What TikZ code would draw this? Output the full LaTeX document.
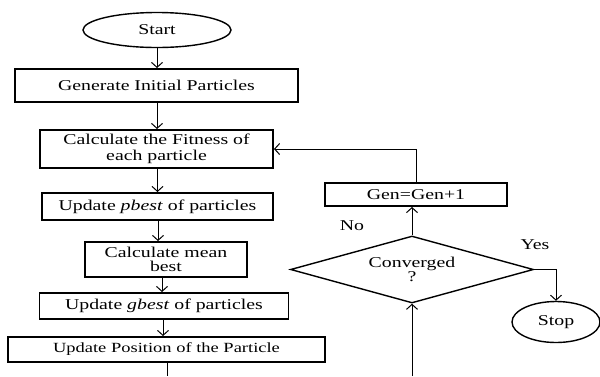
\documentclass[tikz,border=0pt]{standalone}
\usepackage{fontspec}
\setmainfont[FakeStretch=1.32]{Liberation Serif}
\usetikzlibrary{shapes.geometric,arrows.meta}
\begin{document}
\begin{tikzpicture}[x=1pt,y=-1pt,
  box/.style={draw,line width=1.9pt,rectangle,inner sep=0pt,align=center,font=\fontsize{15}{15}\selectfont},
  term/.style={draw,line width=1.4pt,ellipse,inner sep=0pt,font=\fontsize{15}{15}\selectfont},
  arr/.style={-{Straight Barb[length=5pt,width=11pt]},line width=1pt},
  conn/.style={line width=1pt},
  lbl/.style={inner sep=0pt,font=\fontsize{15}{15}\selectfont}
]
\useasboundingbox (0,0) rectangle (600,376);
\node[term,minimum width=148pt,minimum height=35pt] (start) at (157,30) {Start};
\node[box,minimum width=283pt,minimum height=33pt] (gen) at (156.5,85.5) {Generate Initial Particles};
\node[box,minimum width=233pt,minimum height=38pt,font=\fontsize{15}{16}\selectfont] (fit) at (156.5,149) {Calculate the Fitness of\\each particle};
\node[box,minimum width=231pt,minimum height=27pt] (pb) at (157.5,206.5) {Update \textit{pbest} of particles};
\node[box,minimum width=162pt,minimum height=35pt,font=\fontsize{15}{14}\selectfont] (mean) at (166,259.5) {Calculate mean\\best};
\node[box,minimum width=249pt,minimum height=26pt] (gb) at (164,306) {Update \textit{gbest} of particles};
\node[box,minimum width=317pt,minimum height=25pt,font=\fontsize{14}{14}\selectfont] (pos) at (166.5,349.5) {Update Position of the Particle};
\node[box,minimum width=182pt,minimum height=23pt] (inc) at (416,194.5) {Gen=Gen+1};
\node[draw,diamond,line width=1.4pt,minimum width=243pt,minimum height=67pt,inner sep=0pt,aspect=3.6,align=center,font=\fontsize{15}{14}\selectfont] (conv) at (412,269.5) {Converged\\?};
\node[term,minimum width=88pt,minimum height=41pt] (stop) at (556,322) {Stop};
\node[lbl] (no) at (352,226) {No};
\node[lbl] (yes) at (535,245) {Yes};
\coordinate (b1) at (167,376);
\coordinate (b2) at (412,376);
\draw[arr] (start.south) -- (start.south |- gen.north);
\draw[arr] (157,0 |- gen.south) -- (157,0 |- fit.north);
\draw[arr] (157.5,0 |- fit.south) -- (157.5,0 |- pb.north);
\draw[arr] (158,0 |- pb.south) -- (158,0 |- mean.north);
\draw[arr] (162,0 |- mean.south) -- (162,0 |- gb.north);
\draw[arr] (163,0 |- gb.south) -- (163,0 |- pos.north);
\draw[conn] (b1 |- pos.south) -- (b1);
\draw[arr] (inc.north) |- (fit.east);
\draw[arr] (conv.north) -- (conv.north |- inc.south);
\draw[arr] (conv.east) -| (stop.north);
\draw[arr] (b2) -- (conv.south);
\end{tikzpicture}
\end{document}
